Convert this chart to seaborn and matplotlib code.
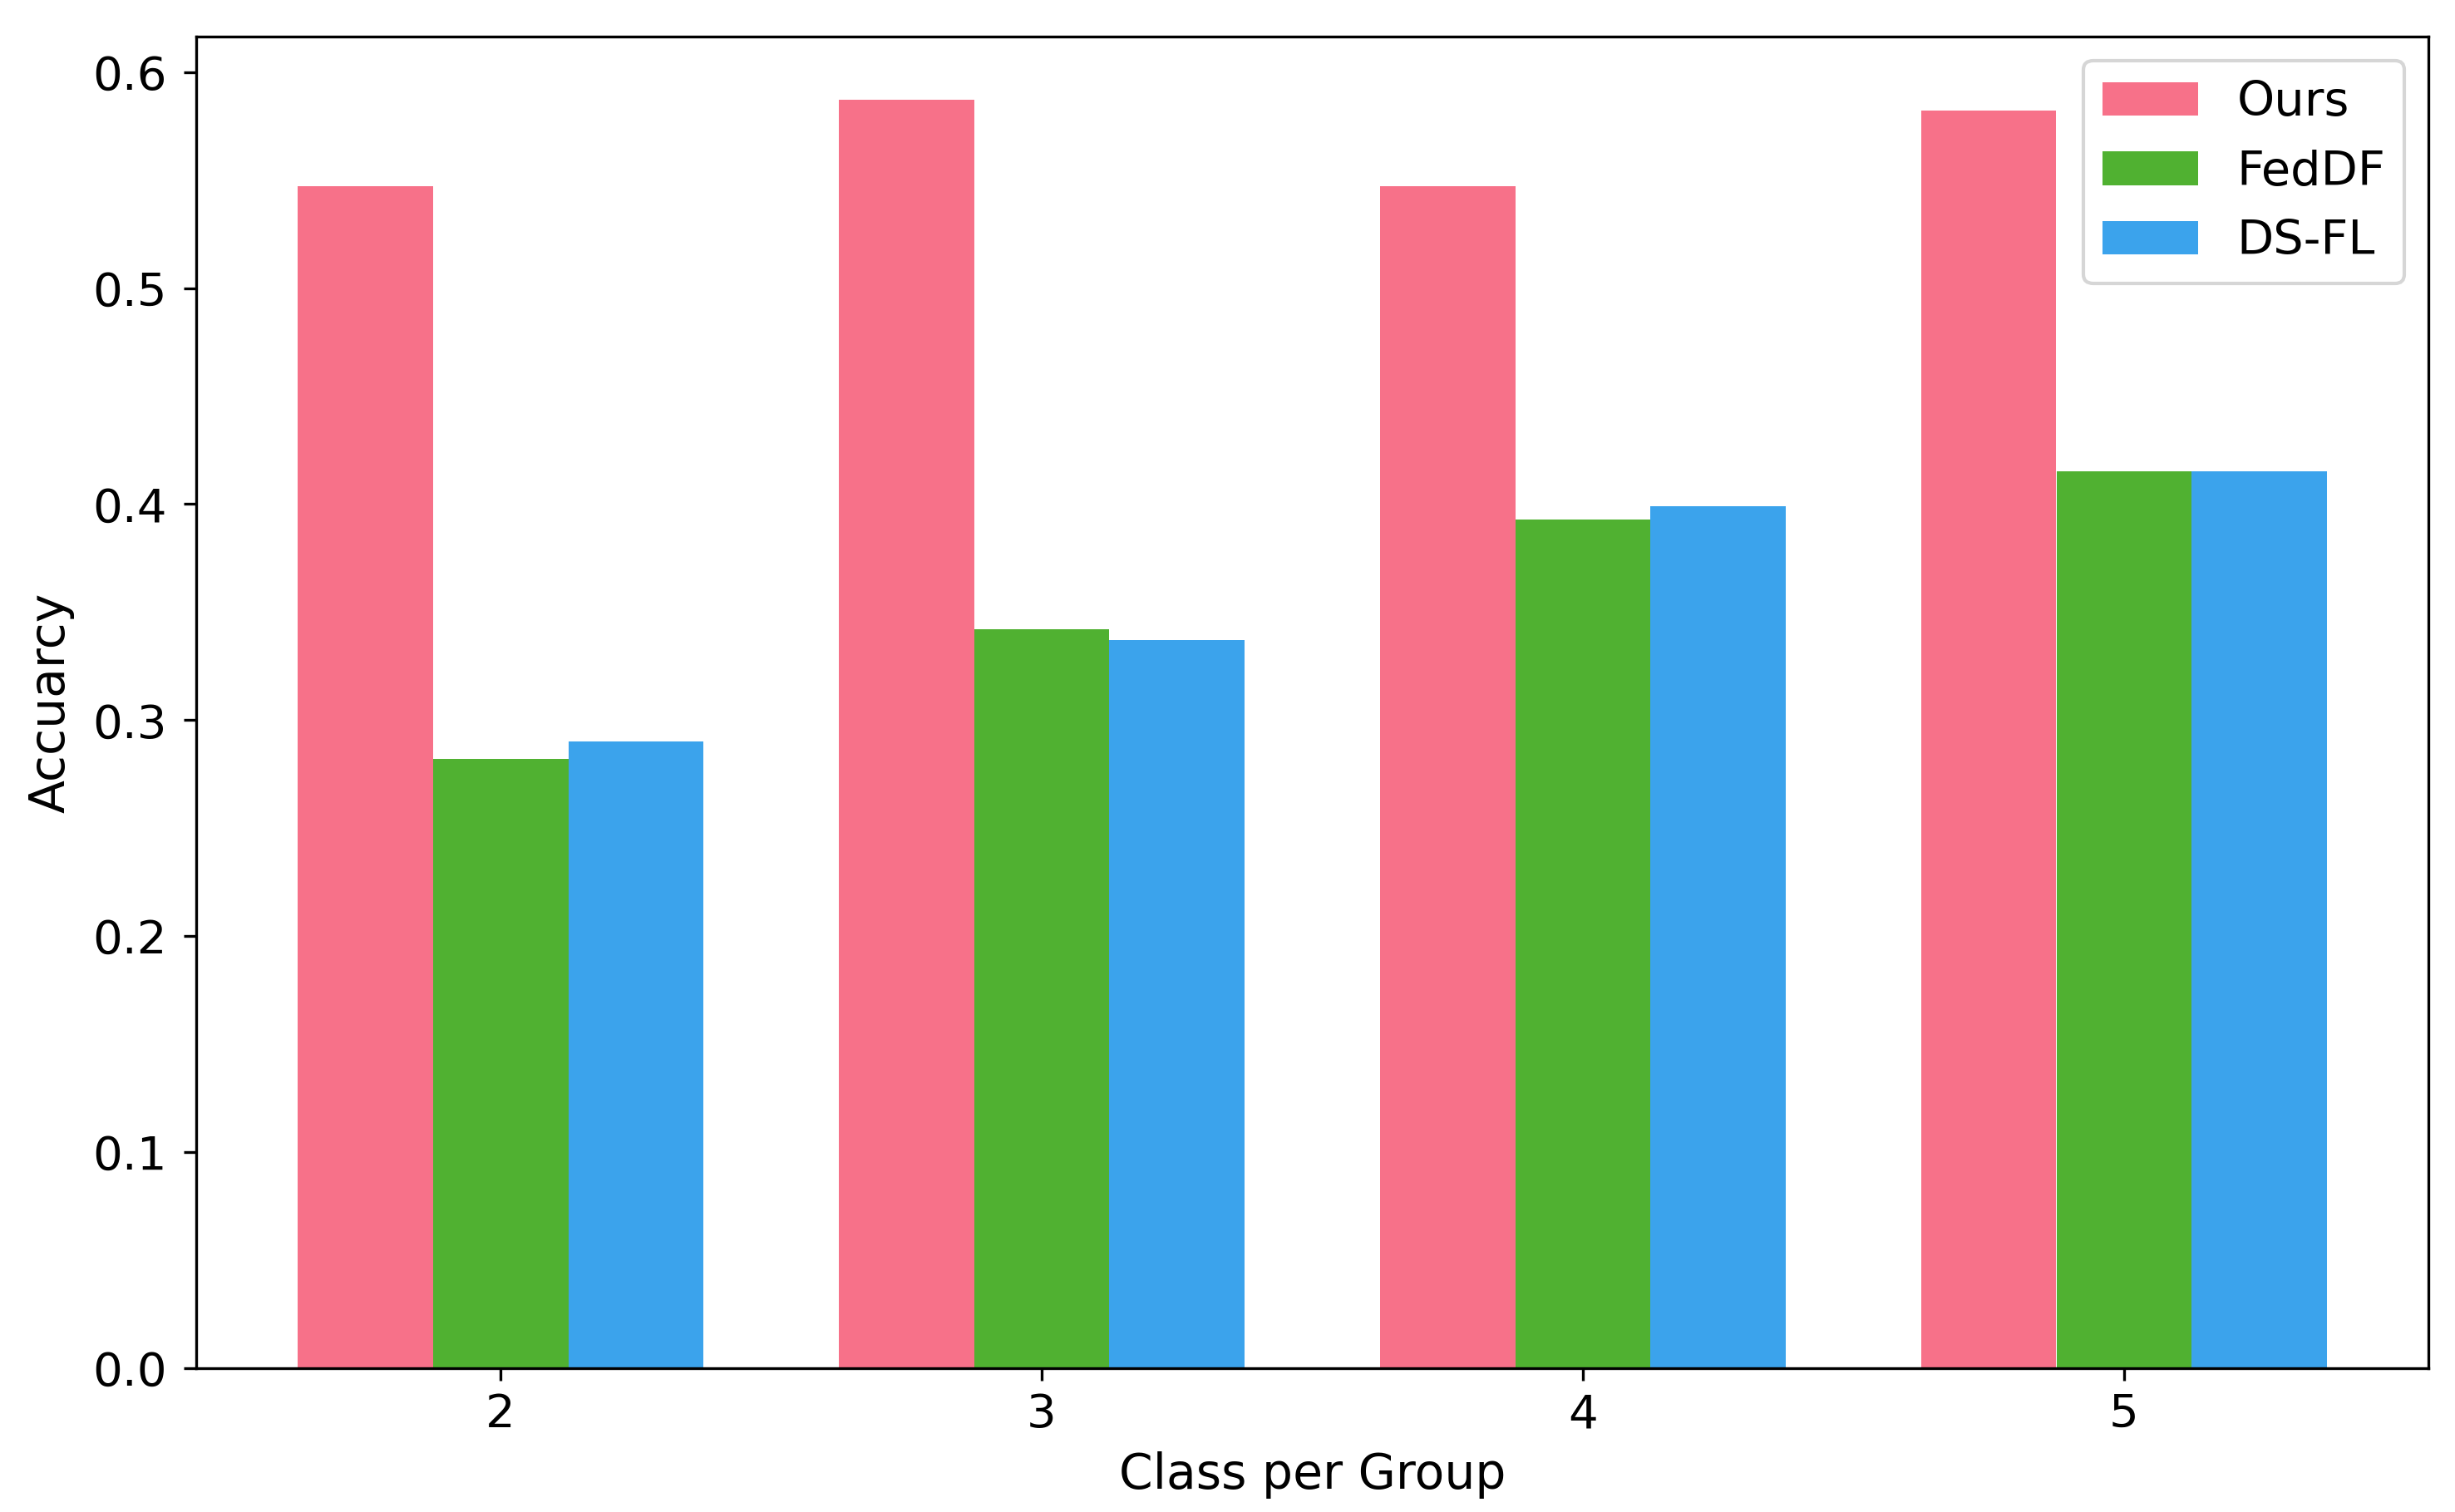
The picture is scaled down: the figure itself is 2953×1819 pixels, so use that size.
import matplotlib
matplotlib.use('Agg')
import matplotlib.pyplot as plt
import seaborn as sns
import pandas as pd

# 数据：每组类别数下三种方法的准确率
groups = [2, 3, 4, 5]
methods = ["Ours", "FedDF", "DS-FL"]
ours = [0.547, 0.587, 0.547, 0.582]
feddf = [0.282, 0.342, 0.393, 0.415]
dsfl = [0.290, 0.337, 0.399, 0.415]

rows = []
for name, vals in zip(methods, [ours, feddf, dsfl]):
    for g, v in zip(groups, vals):
        rows.append({"group": g, "method": name, "acc": v})
df = pd.DataFrame(rows)

plt.rcParams['font.size'] = 13.5
plt.rcParams['axes.labelsize'] = 14

W, H, DPI = 2953, 1819, 300
fig = plt.figure(figsize=(W / DPI, H / DPI), dpi=DPI)
ax = fig.add_axes([236 / W, 1 - 1646 / H, (2921 - 236) / W, (1646 - 44) / H])

sns.barplot(
    data=df, x="group", y="acc", hue="method", hue_order=methods,
    palette="husl", saturation=1, width=0.75, ax=ax
)
ax.set_xlim(-0.5625, 3.5625)
ax.set_ylim(0, 0.6164)
ax.tick_params(axis="y", pad=5)
ax.set_xlabel("Class per Group")
ax.set_ylabel("Accuarcy", labelpad=5.2)
ax.legend(loc="upper right", title=None, fontsize=13.8)

plt.savefig("out.png", dpi=DPI)
